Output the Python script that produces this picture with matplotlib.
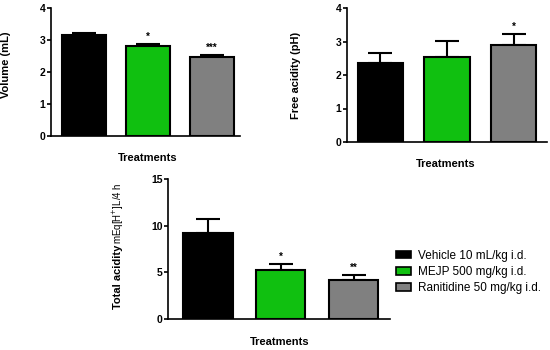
import matplotlib
matplotlib.use("Agg")
import matplotlib.pyplot as plt
from matplotlib.patches import Patch

plt.rcParams['font.family'] = ['Liberation Sans', 'DejaVu Sans']

groups = ['Vehicle 10 mL/kg i.d.', 'MEJP 500 mg/kg i.d.', 'Ranitidine 50 mg/kg i.d.']
colors = ['#000000', '#10c010', '#808080']

volume = [3.15, 2.82, 2.47]
volume_err = [0.07, 0.06, 0.06]
volume_sig = ['', '*', '***']

free_acid = [2.37, 2.53, 2.90]
free_acid_err = [0.28, 0.48, 0.33]
free_acid_sig = ['', '', '*']

total_acid = [9.25, 5.2, 4.2]
total_acid_err = [1.5, 0.7, 0.55]
total_acid_sig = ['', '*', '**']

W, H = 550, 350
fig = plt.figure(figsize=(5.5, 3.5), dpi=100)


def box(x0, x1, ytop, ybot):
    return [x0 / W, 1 - ybot / H, (x1 - x0) / W, (ybot - ytop) / H]


def panel(rect, vals, errs, sig, ymax, yticks, xlim, bw):
    ax = fig.add_axes(rect)
    x = range(len(vals))
    ax.bar(x, vals, width=bw, color=colors, edgecolor='black', linewidth=1.5, zorder=2)
    ax.errorbar(x, vals, yerr=[[0] * len(vals), errs], fmt='none', ecolor='black',
                elinewidth=1.5, capsize=8.5, capthick=1.5, zorder=1)
    for i, s in enumerate(sig):
        if s:
            ax.text(i, vals[i] + errs[i] + ymax * 0.015, s, ha='center', va='bottom',
                    fontsize=7, fontweight='bold')
    ax.set_xlim(*xlim)
    ax.set_ylim(0, ymax)
    ax.set_yticks(yticks)
    ax.set_xticks([])
    for s in ['top', 'right']:
        ax.spines[s].set_visible(False)
    ax.spines['left'].set_linewidth(1.2)
    ax.spines['bottom'].set_linewidth(1.2)
    ax.tick_params(axis='y', labelsize=7.5, width=1.2, length=3, pad=1)
    for t in ax.get_yticklabels():
        t.set_fontweight('bold')
    return ax


ax1 = panel(box(51, 240, 8, 136), volume, volume_err, volume_sig, 4, [0, 1, 2, 3, 4],
            (-0.52, 2.44), 0.69)
fig.text(6 / W, 1 - 65 / H, 'Volume (mL)', rotation=90, ha='center', va='center',
         fontsize=8, fontweight='bold')
fig.text(148 / W, 1 - 158 / H, 'Treatments', ha='center', va='center',
         fontsize=8, fontweight='bold')

ax2 = panel(box(347, 547, 8, 142), free_acid, free_acid_err, free_acid_sig, 4, [0, 1, 2, 3, 4],
            (-0.5, 2.5), 0.68)
fig.text(296 / W, 1 - 75 / H, 'Free acidity (pH)', rotation=90, ha='center', va='center',
         fontsize=8, fontweight='bold')
fig.text(446 / W, 1 - 164 / H, 'Treatments', ha='center', va='center',
         fontsize=8, fontweight='bold')

ax3 = panel(box(168, 390, 179, 319), total_acid, total_acid_err, total_acid_sig, 15,
            [0, 5, 10, 15], (-0.545, 2.5), 0.68)
fig.text(118 / W, 1 - 277 / H, 'Total acidity', rotation=90, ha='center', va='center',
         fontsize=8, fontweight='bold')
fig.text(118 / W, 1 - 213 / H, 'mEq[H$^{+}$]L/4 h', rotation=90, ha='center', va='center',
         fontsize=7)
fig.text(280 / W, 1 - 342 / H, 'Treatments', ha='center', va='center',
         fontsize=8, fontweight='bold')

handles = [Patch(facecolor=c, edgecolor='black', linewidth=1.2) for c in colors]
fig.legend(handles, groups, loc='upper left', bbox_to_anchor=(390 / W, 1 - 244 / H),
           frameon=False, fontsize=8.5, handlelength=1.3, handleheight=0.6,
           handletextpad=0.6, labelspacing=0.35, borderpad=0)

fig.savefig('out.png', dpi=100)
